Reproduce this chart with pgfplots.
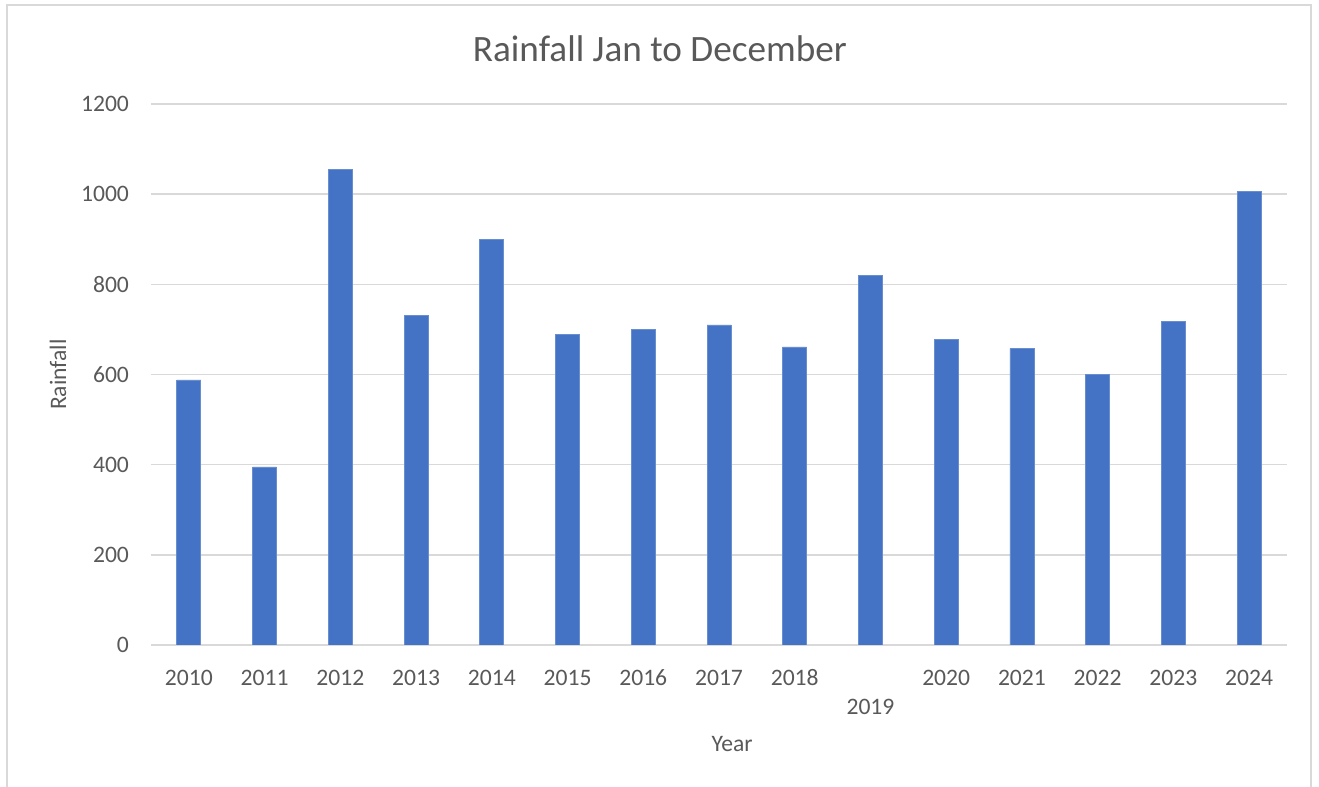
\documentclass[border=0pt]{standalone}
\usepackage{pgfplots}
\pgfplotsset{compat=1.18}
\usepackage{fontspec}
\setmainfont{Carlito}
\definecolor{barblue}{HTML}{4472C4}
\definecolor{gridgray}{HTML}{D9D9D9}
\definecolor{txtgray}{HTML}{595959}
\begin{document}
\begin{tikzpicture}
% canvas is 1319 x 787 px, 1 px = 0.5pt, y measured from bottom
\path[use as bounding box] (0pt,0pt) rectangle (659.5pt,393.5pt);
% chart area border (bottom edge is outside the crop)
\draw[gridgray, line width=1pt] (3.5pt,0pt) -- (3.5pt,391pt) -- (655.5pt,391pt) -- (655.5pt,0pt);
\begin{axis}[
    at={(75.5pt,71pt)}, anchor=south west,
    scale only axis,
    width=568pt, height=270.5pt,
    ybar, bar width=12pt,
    xmin=-0.5, xmax=14.5,
    ymin=0, ymax=1200,
    ytick={0,200,...,1200},
    xtick={0,...,14},
    xticklabels={2010,2011,2012,2013,2014,2015,2016,2017,2018,
        {\raisebox{-14.5pt}[\height][\depth]{2019}},2020,2021,2022,2023,2024},
    axis line style={draw=none},
    major tick length=0pt,
    ymajorgrids,
    grid style={gridgray, line width=0.75pt},
    tick label style={font=\fontsize{11.8pt}{14pt}\selectfont, text=txtgray},
    /pgf/number format/assume math mode=true,
    /pgf/number format/1000 sep={},
    yticklabel style={xshift=-7.5pt},
    xticklabel style={text height=8pt, text depth=0pt, yshift=-8.5pt},
    title={Rainfall Jan to December},
    title style={font=\fontsize{18.6pt}{22pt}\selectfont, text=txtgray,
        at={(0.448,1.0795)}, anchor=center, yshift=0pt},
    xlabel={Year},
    xlabel style={font=\fontsize{11.8pt}{14pt}\selectfont, text=txtgray,
        at={(0.5115,-0.1830)}, anchor=center},
    ylabel={Rainfall},
    ylabel style={font=\fontsize{11.8pt}{14pt}\selectfont, text=txtgray,
        rotate=0, at={(-0.0818,0.5)}, anchor=center},
]
\addplot[fill=barblue, draw=barblue!80!white] coordinates {
    (0,588) (1,395) (2,1054) (3,730) (4,900)
    (5,688) (6,699) (7,710) (8,661) (9,819)
    (10,678) (11,658) (12,600) (13,718) (14,1007)
};
\end{axis}
\end{tikzpicture}
\end{document}
